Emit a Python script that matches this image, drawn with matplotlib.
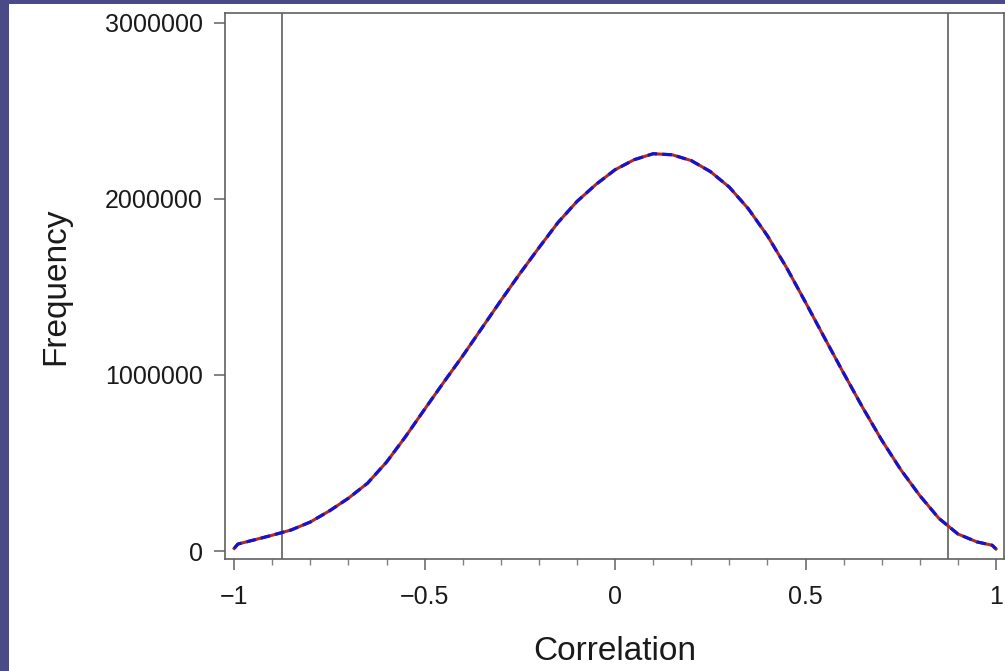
import matplotlib
matplotlib.use('Agg')
import matplotlib.pyplot as plt
from matplotlib.patches import Rectangle
from matplotlib.ticker import MultipleLocator

plt.rcParams['font.family'] = ['Liberation Sans', 'DejaVu Sans']

# values
correlation = [-1.00, -0.99, -0.95, -0.90, -0.85, -0.80, -0.75, -0.70, -0.65, -0.60,
               -0.55, -0.50, -0.45, -0.40, -0.35, -0.30, -0.25, -0.20, -0.15, -0.10,
               -0.05, 0.00, 0.05, 0.10, 0.15, 0.20, 0.25, 0.30, 0.35, 0.40,
               0.45, 0.50, 0.55, 0.60, 0.65, 0.70, 0.75, 0.80, 0.85, 0.90,
               0.95, 0.99, 1.00]
frequency = [15000, 40000, 62000, 90000, 120000, 165000, 228000, 300000, 385000, 505000,
             650000, 805000, 958000, 1108000, 1265000, 1422000, 1575000, 1722000, 1865000, 1985000,
             2082000, 2165000, 2222000, 2256000, 2250000, 2217000, 2155000, 2066000, 1943000, 1790000,
             1610000, 1412000, 1210000, 1010000, 815000, 630000, 462000, 315000, 186000, 97000,
             52000, 33000, 12000]
cutoffs = [-0.875, 0.875]

fig = plt.figure(figsize=(10.05, 6.71), dpi=100)
fig.patch.set_facecolor('#4a4a86')
# white slide area behind the chart
fig.patches.append(Rectangle((9 / 1005, 0), 1, 1 - 4 / 671, transform=fig.transFigure,
                             facecolor='white', edgecolor='none', zorder=-10))

ax = fig.add_axes([225 / 1005, 1 - 559 / 671, 779 / 1005, 546 / 671])
ax.set_facecolor('white')

for c in cutoffs:
    ax.axvline(c, color='#6a6a6a', lw=1.3, zorder=1)

ax.plot(correlation, frequency, color='#b22a1a', lw=2.2, zorder=2)
ax.plot(correlation, frequency, color='#1414d0', lw=2.3, dashes=(3, 1.6), zorder=3)

ax.set_xlim(-1.024, 1.021)
ax.set_ylim(-45000, 3055000)
ax.set_xticks([-1, -0.5, 0, 0.5, 1])
ax.set_xticklabels(['\u22121', '\u22120.5', '0', '0.5', '1'])
ax.xaxis.set_minor_locator(MultipleLocator(0.1))
ax.set_yticks([0, 1000000, 2000000, 3000000])
ax.set_yticklabels(['0', '1000000', '2000000', '3000000'])

for s in ax.spines.values():
    s.set_color('#606060')
    s.set_linewidth(1.2)
ax.tick_params(axis='both', which='major', length=8, width=1.1, color='#606060',
               labelsize=18, labelcolor='#1a1a1a', pad=8)
ax.tick_params(axis='x', which='major', pad=11)
ax.tick_params(axis='x', which='minor', length=4, width=1.0, color='#808080')

ax.set_xlabel('Correlation', fontsize=24, color='#1a1a1a', labelpad=19)
ax.set_ylabel('Frequency', fontsize=24, color='#1a1a1a', labelpad=24)

fig.savefig('out.png', dpi=100, facecolor=fig.get_facecolor())
